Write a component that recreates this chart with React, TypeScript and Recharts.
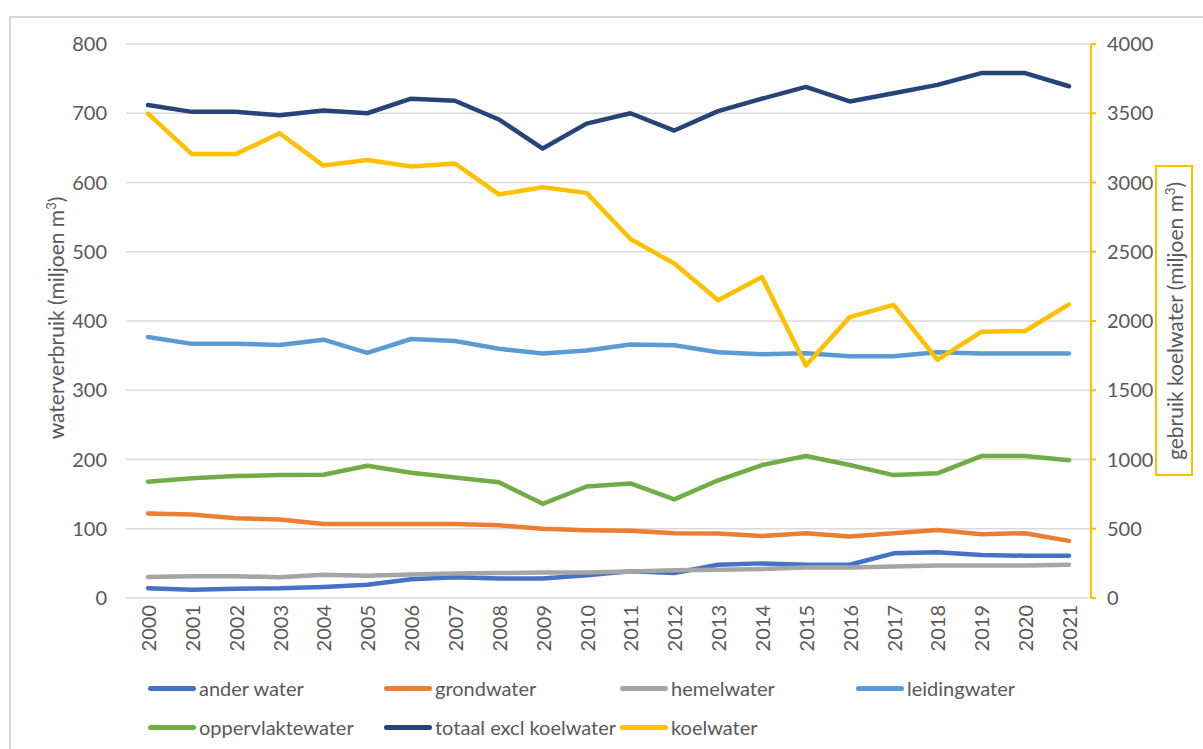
import { LineChart, Line, XAxis, YAxis, CartesianGrid } from 'recharts';

const years = [
  '2000', '2001', '2002', '2003', '2004', '2005', '2006', '2007', '2008', '2009', '2010',
  '2011', '2012', '2013', '2014', '2015', '2016', '2017', '2018', '2019', '2020', '2021',
];

// miljoen m3, left axis
const anderWater = [14, 12, 13.5, 14, 16, 19, 27, 30, 28, 28, 33, 38.5, 36, 48, 50, 48, 48, 64.5, 66, 62, 61, 61];
const grondwater = [122, 120.5, 115, 113.5, 107, 107, 107, 107, 105, 100, 98, 97, 93.6, 93, 89.7, 93.6, 88.7, 93.6, 98.3, 92, 93.6, 82.5];
const hemelwater = [30.5, 31.5, 31.5, 30, 33.5, 32, 34, 35.5, 36, 37, 37, 38.3, 40, 40.7, 42, 44, 44, 45.5, 47, 47, 47, 48];
const leidingwater = [377, 367, 367, 365.5, 373, 354, 374, 371, 360, 353, 357.5, 366, 365, 355, 352, 353.5, 349, 349, 355, 353, 353, 353];
const oppervlaktewater = [168, 173, 176, 177.5, 178, 191, 181, 174, 167, 136, 161, 165.5, 142.5, 170, 192, 205, 192, 177.5, 180, 205, 205, 199];
const totaalExclKoelwater = [712, 702, 702, 697, 704, 700, 721, 718, 691, 649, 685, 700, 675, 703, 721, 738, 717, 729, 741, 758, 758, 739];
// miljoen m3, right axis
const koelwater = [3498, 3205, 3205, 3356, 3122, 3162, 3116, 3137, 2914, 2966, 2925, 2592, 2415, 2150, 2317, 1678, 2028, 2116, 1720, 1922, 1928, 2120];

const leftTicks = [0, 100, 200, 300, 400, 500, 600, 700, 800];
const rightTicks = [0, 500, 1000, 1500, 2000, 2500, 3000, 3500, 4000];

const SERIES = [
  { key: 'ander', name: 'ander water', color: '#4472C4', values: anderWater, axis: 'left' },
  { key: 'grond', name: 'grondwater', color: '#ED7D31', values: grondwater, axis: 'left' },
  { key: 'hemel', name: 'hemelwater', color: '#A5A5A5', values: hemelwater, axis: 'left' },
  { key: 'leiding', name: 'leidingwater', color: '#5B9BD5', values: leidingwater, axis: 'left' },
  { key: 'opper', name: 'oppervlaktewater', color: '#70AD47', values: oppervlaktewater, axis: 'left' },
  { key: 'totaal', name: 'totaal excl koelwater', color: '#264478', values: totaalExclKoelwater, axis: 'left' },
  { key: 'koel', name: 'koelwater', color: '#FFC000', values: koelwater, axis: 'right' },
];

const chartData = years.map((year, i) => {
  const row: Record<string, string | number> = { year };
  SERIES.forEach((s) => {
    row[s.key] = s.values[i];
  });
  return row;
});

const FONT = 'Lato, "Open Sans", sans-serif';
const TEXT = '#595959';

function YearTick({ x, y, payload }: any) {
  return (
    <text
      x={x}
      y={y}
      transform={`rotate(-90, ${x}, ${y})`}
      textAnchor="end"
      dominantBaseline="central"
      fill={TEXT}
      fontSize={20}
      fontFamily={FONT}
    >
      {payload.value}
    </text>
  );
}

export default function App() {
  return (
    <div
      style={{
        position: 'absolute',
        left: 0,
        top: 0,
        width: 1203,
        height: 749,
        overflow: 'hidden',
        background: '#fff',
        fontFamily: FONT,
      }}
    >
      <div
        style={{
          position: 'absolute',
          left: 9,
          top: 16,
          width: 1220,
          height: 760,
          border: '2px solid #d9d9d9',
        }}
      />
      <LineChart
        width={1203}
        height={749}
        data={chartData}
        margin={{ top: 44, right: 0, left: 0, bottom: 0 }}
        style={{ position: 'absolute', left: 0, top: 0 }}
      >
        <CartesianGrid yAxisId="left" vertical={false} stroke="#d9d9d9" strokeWidth={1.5} />
        <XAxis
          dataKey="year"
          height={151}
          axisLine={false}
          tickLine={false}
          tickSize={0}
          tickMargin={7}
          interval={0}
          padding={{ left: 22, right: 22 }}
          tick={<YearTick />}
        />
        <YAxis
          yAxisId="left"
          width={126}
          domain={[0, 800]}
          ticks={leftTicks}
          axisLine={false}
          tickLine={false}
          tickSize={0}
          tickMargin={19}
          tick={{ fill: TEXT, fontSize: 20, fontFamily: FONT }}
        />
        <YAxis
          yAxisId="right"
          orientation="right"
          width={112}
          domain={[0, 4000]}
          ticks={rightTicks}
          axisLine={{ stroke: '#FFC000', strokeWidth: 2 }}
          tickLine={{ stroke: '#FFC000', strokeWidth: 2 }}
          tickSize={5}
          tickMargin={11}
          tick={{ fill: TEXT, fontSize: 20, fontFamily: FONT }}
        />
        {SERIES.map((s) => (
          <Line
            key={s.key}
            yAxisId={s.axis}
            dataKey={s.key}
            name={s.name}
            stroke={s.color}
            strokeWidth={4.5}
            strokeLinecap="round"
            strokeLinejoin="round"
            dot={false}
            activeDot={false}
            type="linear"
            isAnimationActive={false}
          />
        ))}
      </LineChart>

      <div
        style={{
          position: 'absolute',
          left: 55,
          top: 318,
          transform: 'translate(-50%, -50%) rotate(-90deg)',
          whiteSpace: 'nowrap',
          fontSize: 21,
          color: TEXT,
        }}
      >
        waterverbruik (miljoen m<sup style={{ fontSize: 13 }}>3</sup>)
      </div>

      <div
        style={{
          position: 'absolute',
          left: 1155,
          top: 165,
          width: 34,
          height: 307,
          border: '2px solid #FFC000',
        }}
      >
        <div
          style={{
            position: 'absolute',
            left: '50%',
            top: '50%',
            transform: 'translate(-50%, -50%) rotate(-90deg)',
            whiteSpace: 'nowrap',
            fontSize: 21,
            color: TEXT,
          }}
        >
          gebruik koelwater (miljoen m<sup style={{ fontSize: 13 }}>3</sup>)
        </div>
      </div>

      {SERIES.map((s, i) => {
        const col = i % 4;
        const row = Math.floor(i / 4);
        return (
          <div
            key={s.key}
            style={{
              position: 'absolute',
              left: 148 + col * 236,
              top: 688 + row * 39,
              transform: 'translateY(-50%)',
              display: 'flex',
              alignItems: 'center',
              whiteSpace: 'nowrap',
              fontSize: 20,
              color: TEXT,
            }}
          >
            <span
              style={{
                display: 'inline-block',
                width: 48,
                height: 5,
                borderRadius: 3,
                background: s.color,
                marginRight: 3,
              }}
            />
            {s.name}
          </div>
        );
      })}
    </div>
  );
}
